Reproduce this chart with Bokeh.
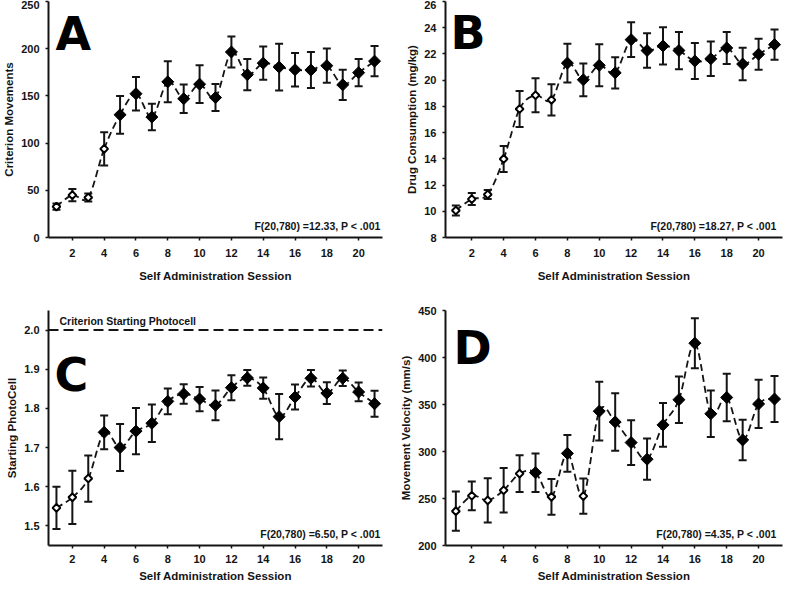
import numpy as np
from bokeh.plotting import figure
from bokeh.models import (ColumnDataSource, Range1d, FixedTicker, Label, Span,
                          Whisker, TeeHead, PrintfTickFormatter)
from bokeh.layouts import gridplot
from bokeh.embed import file_html
from bokeh.resources import INLINE

# ---------------- data ----------------
sessions = list(range(1, 22))
x_ticks = [2, 4, 6, 8, 10, 12, 14, 16, 18, 20]

movements_mean = [32.7, 44.9, 42.4, 93.9, 130.0, 152.3, 127.6, 164.9, 147.0, 162.4, 148.2,
                  196.5, 172.5, 184.7, 180.5, 177.7, 177.4, 182.0, 161.7, 174.6, 186.8]
movements_sem = [3.3, 6.4, 4.2, 17.6, 20.0, 17.7, 14.1, 21.7, 15.1, 20.0, 14.3,
                 16.3, 16.5, 17.6, 24.7, 17.7, 19.1, 18.1, 16.0, 14.4, 16.0]
movements_open = [1, 2, 3, 4]
movements_ticks = [0, 50, 100, 150, 200, 250]

drug_mean = [10.06, 10.93, 11.28, 13.99, 17.80, 18.85, 18.50, 21.30, 20.03, 21.13, 20.56,
             23.09, 22.26, 22.61, 22.26, 21.46, 21.63, 22.46, 21.23, 21.98, 22.71]
drug_sem = [0.38, 0.46, 0.35, 0.99, 1.38, 1.29, 1.19, 1.48, 1.25, 1.60, 1.19,
            1.33, 1.32, 1.42, 1.42, 1.37, 1.32, 1.22, 1.24, 1.18, 1.15]
drug_open = [1, 2, 3, 4, 5, 6, 7]
drug_ticks = [8, 10, 12, 14, 16, 18, 20, 22, 24, 26]

photocell_mean = [1.546, 1.573, 1.621, 1.739, 1.700, 1.742, 1.762, 1.818, 1.837, 1.824, 1.808,
                  1.853, 1.878, 1.852, 1.779, 1.829, 1.877, 1.839, 1.877, 1.842, 1.812]
photocell_sem = [0.054, 0.068, 0.059, 0.043, 0.060, 0.059, 0.048, 0.033, 0.025, 0.031, 0.038,
                 0.032, 0.020, 0.027, 0.058, 0.032, 0.021, 0.028, 0.020, 0.024, 0.033]
photocell_open = [1, 2, 3]
photocell_ticks = [1.5, 1.6, 1.7, 1.8, 1.9, 2.0]
criterion_photocell = 2.0

velocity_mean = [236.5, 252.9, 248.0, 258.8, 276.5, 277.5, 251.8, 298.0, 252.5, 342.9, 331.4,
                 309.5, 291.8, 328.3, 355.1, 415.2, 340.1, 357.5, 312.3, 350.6, 355.8]
velocity_sem = [20.9, 15.3, 23.5, 23.6, 19.6, 20.5, 19.0, 19.5, 18.8, 31.3, 30.6,
                23.8, 21.9, 23.3, 24.7, 26.6, 24.7, 25.2, 21.6, 25.7, 24.5]
velocity_open = [1, 2, 3, 4, 5, 7, 9]
velocity_ticks = [200, 250, 300, 350, 400, 450]

FONT = "Liberation Sans"
INK = "#141414"


def smooth_segments(x, y):
    """Bezier control points (Catmull-Rom style) for a smoothed line."""
    x = np.asarray(x, float)
    y = np.asarray(y, float)
    n = len(x)
    qx = np.concatenate([[x[0]], x, [x[-1]]])
    qy = np.concatenate([[y[0]], y, [y[-1]]])
    x0, y0 = qx[1:n], qy[1:n]
    x1, y1 = qx[2:n + 1], qy[2:n + 1]
    cx0 = x0 + (qx[2:n + 1] - qx[0:n - 1]) / 6.0
    cy0 = y0 + (qy[2:n + 1] - qy[0:n - 1]) / 6.0
    cx1 = x1 - (qx[3:n + 2] - qx[1:n]) / 6.0
    cy1 = y1 - (qy[3:n + 2] - qy[1:n]) / 6.0
    return dict(x0=x0, y0=y0, x1=x1, y1=y1, cx0=cx0, cy0=cy0, cx1=cx1, cy1=cy1)


def make_panel(mean, sem, open_sessions, y_range, y_ticks, ylabel, letter, stat,
               top_row, left_col, letter_pos, fmt=None):
    mb_left = 44 if left_col else 53
    mb_right = 10 if left_col else 2
    mb_top = 1 if top_row else 18
    mb_bottom = 55 if top_row else 39
    width = 392
    height = 292
    frame_w = width - mb_left - mb_right
    frame_h = height - mb_top - mb_bottom
    x_start = 0.5 if left_col else 0.35

    p = figure(width=width, height=height, output_backend="svg", toolbar_location=None,
               x_range=Range1d(x_start, 21.5), y_range=Range1d(*y_range),
               min_border_left=mb_left, min_border_right=mb_right,
               min_border_top=mb_top, min_border_bottom=mb_bottom)
    p.outline_line_color = None
    p.grid.visible = False
    p.background_fill_color = "white"

    for ax in (p.xaxis[0], p.yaxis[0]):
        ax.axis_line_width = 2
        ax.axis_line_color = INK
        ax.major_tick_line_width = 1.5
        ax.major_tick_line_color = INK
        ax.major_tick_in = 0
        ax.major_tick_out = 3
        ax.minor_tick_line_color = None
        ax.major_label_text_font = FONT
        ax.major_label_text_font_style = "bold"
        ax.major_label_text_font_size = "11px"
        ax.major_label_text_color = INK
        ax.axis_label_text_font = FONT
        ax.axis_label_text_font_style = "bold"
        ax.axis_label_text_font_size = "11.5px"
        ax.axis_label_text_color = INK

    p.xaxis.ticker = FixedTicker(ticks=x_ticks)
    p.xaxis.axis_label = "Self Administration Session"
    p.xaxis.major_label_standoff = 8 if top_row else 6
    p.xaxis.axis_label_standoff = 10 if top_row else 4
    p.yaxis.ticker = FixedTicker(ticks=y_ticks)
    p.yaxis.axis_label = ylabel
    p.yaxis.major_label_standoff = 6
    p.yaxis.axis_label_standoff = 3
    if fmt:
        p.yaxis.formatter = PrintfTickFormatter(format=fmt)

    m = np.asarray(mean, float)
    s = np.asarray(sem, float)
    err_src = ColumnDataSource(dict(x=sessions, upper=m + s, lower=m - s))
    whisk = Whisker(source=err_src, base="x", upper="upper", lower="lower",
                    line_width=2, line_color=INK, level="underlay",
                    upper_head=TeeHead(size=8, line_width=2, line_color=INK),
                    lower_head=TeeHead(size=8, line_width=2, line_color=INK))
    p.add_layout(whisk)

    seg = smooth_segments(sessions, mean)
    p.bezier(x0="x0", y0="y0", x1="x1", y1="y1", cx0="cx0", cy0="cy0", cx1="cx1", cy1="cy1",
             source=ColumnDataSource(seg), line_color=INK, line_width=1.8,
             line_dash="7 4")

    filled_x = [x for x in sessions if x not in open_sessions]
    filled_y = [v for x, v in zip(sessions, mean) if x not in open_sessions]
    open_x = [x for x in sessions if x in open_sessions]
    open_y = [v for x, v in zip(sessions, mean) if x in open_sessions]
    p.scatter(filled_x, filled_y, marker="square", angle=np.pi / 4, size=8.5,
              fill_color="black", line_color="black", line_width=1)
    p.scatter(open_x, open_y, marker="square", angle=np.pi / 4, size=5.5,
              fill_color="white", line_color="black", line_width=2)

    lx, ly = letter_pos
    p.add_layout(Label(x=lx, y=frame_h - ly, x_units="screen", y_units="screen",
                       text=letter, text_font="DejaVu Sans", text_font_style="bold",
                       text_font_size="46px", text_color="black",
                       text_baseline="alphabetic"))
    p.add_layout(Label(x=frame_w - 6, y=12, x_units="screen", y_units="screen",
                       text=stat, text_font=FONT, text_font_style="bold",
                       text_font_size="10.5px", text_color=INK,
                       text_align="right", text_baseline="middle"))
    return p, frame_h


pa, _ = make_panel(movements_mean, movements_sem, movements_open, (0, 250), movements_ticks,
                   "Criterion Movements", "A", "F(20,780) =12.33, P < .001",
                   True, True, (7, 32))
pb, _ = make_panel(drug_mean, drug_sem, drug_open, (8, 26), drug_ticks,
                   "Drug Consumption (mg/kg)", "B", "F(20,780) =18.27, P < .001",
                   True, False, (5, 31))
pc, fh_c = make_panel(photocell_mean, photocell_sem, photocell_open, (1.45, 2.05),
                      photocell_ticks, "Starting PhotoCell", "C", "F(20,780) =6.50, P < .001",
                      False, True, (6, 64), fmt="%.1f")
pd_, _ = make_panel(velocity_mean, velocity_sem, velocity_open, (200, 450), velocity_ticks,
                    "Movement Velocity (mm/s)", "D", "F(20,780) =4.35, P < .001",
                    False, False, (8, 37))

pc.add_layout(Span(location=criterion_photocell, dimension="width", line_color=INK,
                   line_width=2, line_dash="10 5"))
pc.add_layout(Label(x=11, y=fh_c - 10, x_units="screen", y_units="screen",
                    text="Criterion Starting Photocell", text_font=FONT,
                    text_font_style="bold", text_font_size="10.5px", text_color=INK,
                    text_baseline="middle"))

grid = gridplot([[pa, pb], [pc, pd_]], toolbar_location=None)

open("out.html", "w").write(file_html(grid, INLINE))
